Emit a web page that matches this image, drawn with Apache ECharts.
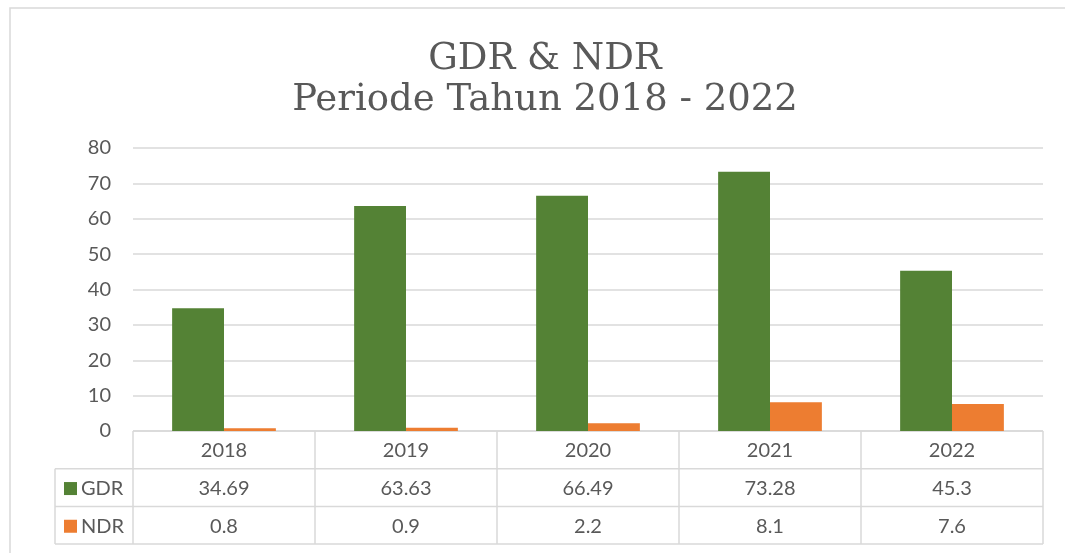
<!DOCTYPE html>
<html>
<head>
<meta charset="utf-8">
<script src="https://cdn.jsdelivr.net/npm/echarts@6/dist/echarts.min.js"></script>
<style>html,body{margin:0;padding:0;background:#fff;}#c{width:1065px;height:553px;}</style>
</head>
<body>
<div id="c"></div>
<script>
const titleLines = ['GDR & NDR', 'Periode Tahun 2018 - 2022'];
const years = ['2018', '2019', '2020', '2021', '2022'];
const gdr = [34.69, 63.63, 66.49, 73.28, 45.3];
const ndr = [0.8, 0.9, 2.2, 8.1, 7.6];
const seriesNames = ['GDR', 'NDR'];
const colors = ['#548235', '#ED7D31'];
const yTicks = [0, 10, 20, 30, 40, 50, 60, 70, 80];

(function () {
const chart = echarts.init(document.getElementById('c'));
const txt = '#595959', line = '#d9d9d9';
chart.setOption({
  animation: false,
  title: {
    text: titleLines.join('\n'),
    left: 540, top: 34, textAlign: 'center',
    textStyle: {fontFamily: 'DejaVu Serif', fontWeight: 'normal', fontSize: 37, color: txt, lineHeight: 41}
  },
  grid: {left: 133, right: 22, top: 148, bottom: 122},
  xAxis: {
    type: 'category', data: years,
    axisLine: {show: false}, axisTick: {show: false}, axisLabel: {show: false}
  },
  yAxis: {
    type: 'value', min: yTicks[0], max: yTicks[yTicks.length - 1], interval: 10,
    axisLine: {show: false}, axisTick: {show: false},
    axisLabel: {margin: 22, fontFamily: 'Lato', fontSize: 20, color: txt},
    splitLine: {lineStyle: {color: line, width: 1.5}}
  },
  series: [
    {name: seriesNames[0], type: 'bar', data: gdr, barGap: '0%', barCategoryGap: '43%', itemStyle: {color: colors[0]}},
    {name: seriesNames[1], type: 'bar', data: ndr, itemStyle: {color: colors[1]}}
  ]
});

const c0 = chart.convertToPixel({xAxisIndex: 0}, years[0]);
const c1 = chart.convertToPixel({xAxisIndex: 0}, years[1]);
const band = c1 - c0;
const tLeft = c0 - band / 2;
const tRight = tLeft + band * years.length;
const tTop = chart.convertToPixel({yAxisIndex: 0}, 0);
const rowH = 37.7;
const legLeft = 55;
const els = [];
const ls = {stroke: line, lineWidth: 1.5};
els.push({type: 'rect', shape: {x: 10, y: 8, width: 1080, height: 600}, style: {fill: 'none', stroke: line, lineWidth: 1.5}, silent: true});
els.push({type: 'line', shape: {x1: tLeft, y1: tTop, x2: tRight, y2: tTop}, style: ls});
for (let r = 1; r <= 3; r++) {
  els.push({type: 'line', shape: {x1: legLeft, y1: tTop + rowH * r, x2: tRight, y2: tTop + rowH * r}, style: ls});
}
els.push({type: 'line', shape: {x1: legLeft, y1: tTop + rowH, x2: legLeft, y2: tTop + rowH * 3}, style: ls});
for (let i = 0; i <= years.length; i++) {
  const x = tLeft + band * i;
  els.push({type: 'line', shape: {x1: x, y1: tTop, x2: x, y2: tTop + rowH * 3}, style: ls});
}
const font = '20px Lato';
years.forEach((y, i) => {
  const cx = chart.convertToPixel({xAxisIndex: 0}, y);
  [y, String(gdr[i]), String(ndr[i])].forEach((t, r) => {
    els.push({type: 'text', x: cx, y: tTop + rowH * r + rowH / 2 + 1, style: {text: t, font: font, fill: txt, align: 'center', verticalAlign: 'middle'}});
  });
});
seriesNames.forEach((n, k) => {
  const cy = tTop + rowH * (k + 1) + rowH / 2 + 1;
  els.push({type: 'rect', shape: {x: 64, y: cy - 6.5, width: 13, height: 13}, style: {fill: colors[k]}});
  els.push({type: 'text', x: 81, y: cy, style: {text: n, font: font, fill: txt, align: 'left', verticalAlign: 'middle'}});
});
chart.setOption({graphic: {elements: els}});
})();
</script>
</body>
</html>
